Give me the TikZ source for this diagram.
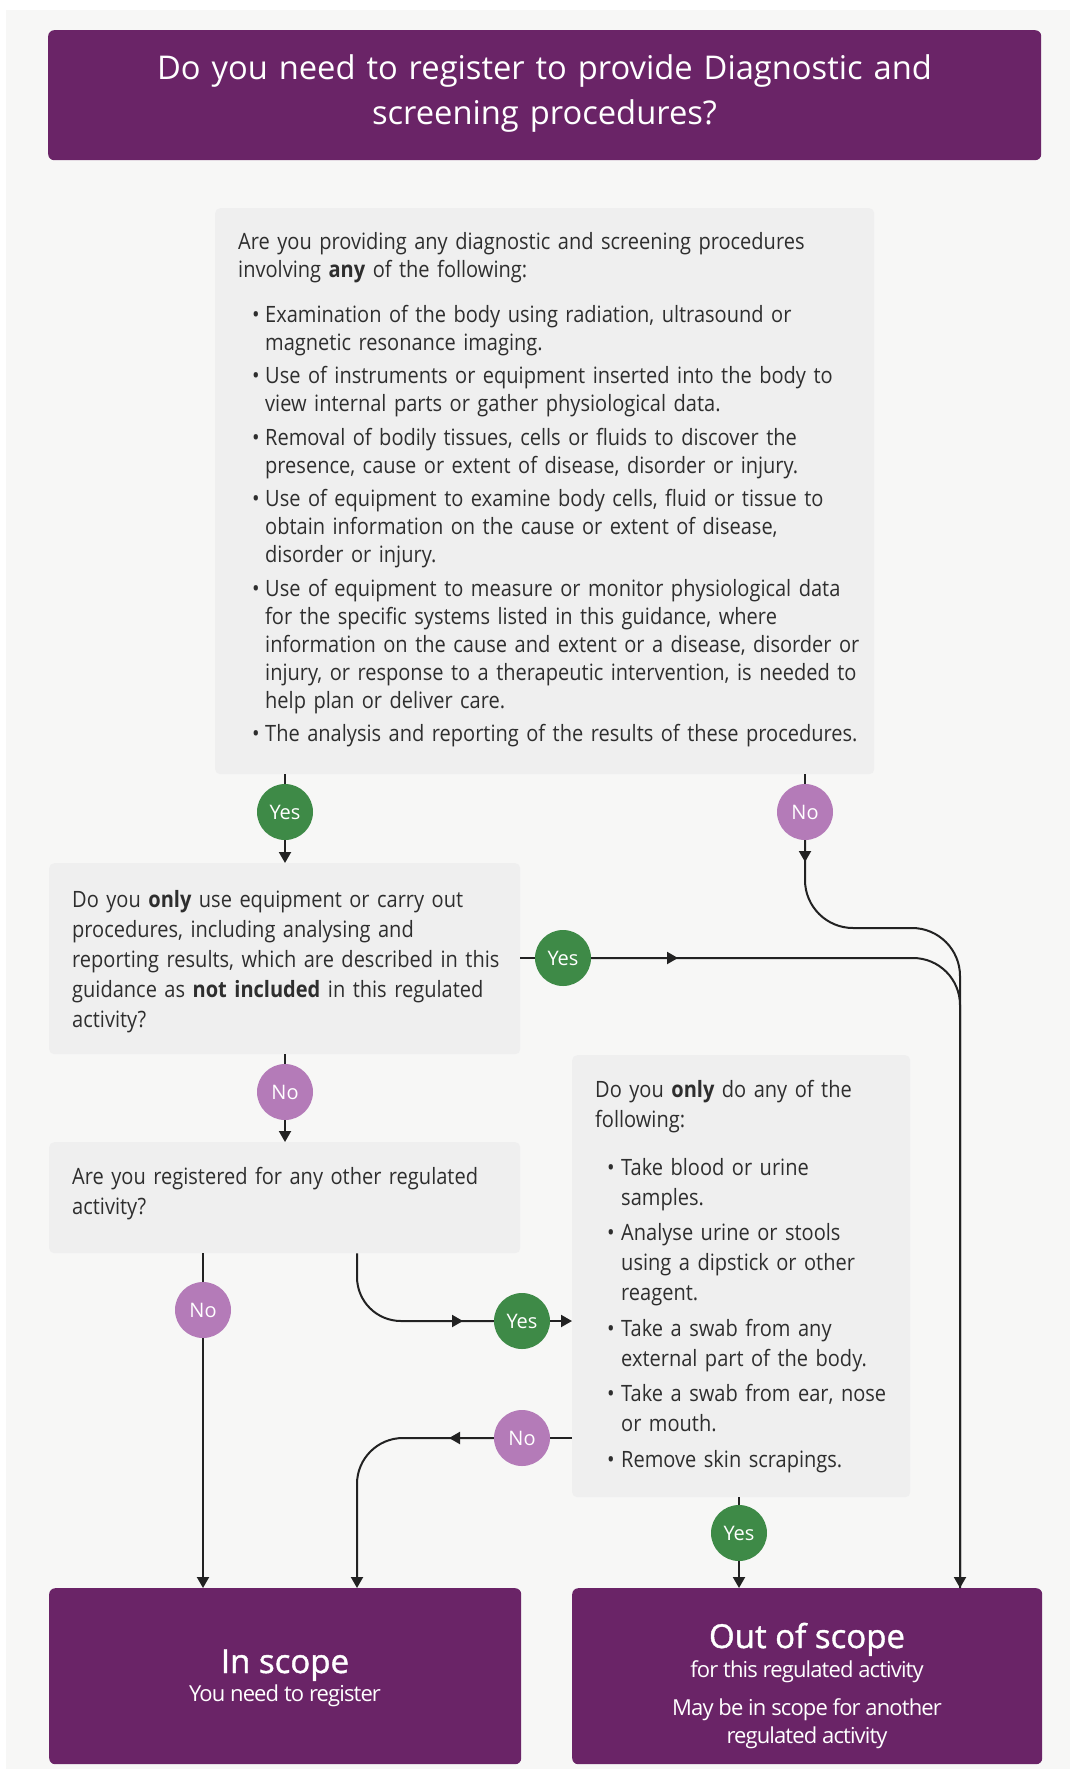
\documentclass[tikz,border=0pt]{standalone}
\usepackage{fontspec}
\setmainfont{Open Sans}
\newfontfamily\bodyfont[FakeStretch=0.89]{Open Sans}
\newfontfamily\whitefont[LetterSpace=-4]{Open Sans}
\newfontfamily\headfont[FakeBold=1.2]{Open Sans}
\usetikzlibrary{arrows.meta}
\definecolor{bgc}{HTML}{F7F7F6}
\definecolor{purp}{HTML}{6A2467}
\definecolor{boxc}{HTML}{EFEFEF}
\definecolor{yesc}{HTML}{3E8A47}
\definecolor{noc}{HTML}{B47BB8}
\definecolor{txtc}{HTML}{2E2E2E}
\definecolor{linec}{HTML}{222222}
\newcommand\bul[2]{\hangindent=#1\hangafter=1\noindent\makebox[#1][l]{•}#2\par}
\begin{document}
\begin{tikzpicture}[x=1bp,y=-1bp,
  graybox/.style={fill=boxc, rounded corners=5bp, draw=none, inner sep=0, anchor=north west},
  purpbox/.style={fill=purp, rounded corners=6bp, draw=none, inner sep=0, anchor=north west},
  bodytxt/.style={anchor=base west, inner sep=0, text=txtc, align=left, text width=#1,
     font={\bodyfont\fontsize{22.5bp}{28bp}\selectfont}},
  bodytxt/.default=660bp,
  whitetxt/.style={anchor=base, inner sep=0, text=white, font={\whitefont\fontsize{22bp}{22bp}\selectfont}},
  headtxt/.style={anchor=base, inner sep=0, text=white, font={\headfont\fontsize{33bp}{33bp}\selectfont}},
  circ/.style={circle, minimum size=56bp, inner sep=0, text=white,
     font={\fontsize{20bp}{20bp}\selectfont}},
  yesnode/.style={circ, fill=yesc},
  nonode/.style={circ, fill=noc},
  conn/.style={draw=linec, line width=2bp},
  arr/.style={-{Triangle[length=11bp,width=12bp]}},
]
\useasboundingbox (0,0) rectangle (1070,1769);
\fill[white] (0,0) rectangle (1070,1769);
\fill[bgc] (6,10) rectangle (1070,1769);

% title
\node[purpbox, minimum width=993bp, minimum height=130bp] (title) at (48,30) {};
\node[anchor=base, inner sep=0, text=white, align=center, text width=980bp,
  font={\fontsize{32.7bp}{45bp}\selectfont}] (titletxt) at (544.5,79)
  {Do you need to register to provide Diagnostic and\\screening procedures?};

% box 1
\node[graybox, minimum width=659bp, minimum height=566bp] (b1) at (215,208) {};
\node[bodytxt] (b1a) at (238,249)
  {Are you providing any diagnostic and screening procedures\\involving \textbf{any} of the following:};
\node[bodytxt] (b1b) at (252,322) {\bul{13bp}{Examination of the body using radiation, ultrasound or\newline magnetic resonance imaging.}\vspace{5.5bp}
  \bul{13bp}{Use of instruments or equipment inserted into the body to\newline view internal parts or gather physiological data.}\vspace{5.5bp}
  \bul{13bp}{Removal of bodily tissues, cells or fluids to discover the\newline presence, cause or extent of disease, disorder or injury.}\vspace{5.5bp}
  \bul{13bp}{Use of equipment to examine body cells, fluid or tissue to\newline obtain information on the cause or extent of disease,\newline disorder or injury.}\vspace{5.5bp}
  \bul{13bp}{Use of equipment to measure or monitor physiological data\newline for the specific systems listed in this guidance, where\newline information on the cause and extent or a disease, disorder or\newline injury, or response to a therapeutic intervention, is needed to\newline help plan or deliver care.}\vspace{5.5bp}
  \bul{13bp}{The analysis and reporting of the results of these procedures.}};

% box 2
\node[graybox, minimum width=471bp, minimum height=191bp] (b2) at (49,863) {};
\node[bodytxt=440bp, font={\bodyfont\fontsize{22.5bp}{30bp}\selectfont}] (b2t) at (72,907)
  {Do you \textbf{only} use equipment or carry out\\procedures, including analysing and\\reporting results, which are described in this\\guidance as \textbf{not included} in this regulated\\activity?};

% box 3
\node[graybox, minimum width=471bp, minimum height=111bp] (b3) at (49,1142) {};
\node[bodytxt=440bp, font={\bodyfont\fontsize{22.5bp}{30bp}\selectfont}] (b3t) at (72,1184)
  {Are you registered for any other regulated\\activity?};

% box 4
\node[graybox, minimum width=338bp, minimum height=442bp] (b4) at (572,1055) {};
\node[bodytxt=320bp, font={\bodyfont\fontsize{22.5bp}{30bp}\selectfont}] (b4a) at (595,1097)
  {Do you \textbf{only} do any of the\\following:};
\node[bodytxt=320bp, font={\bodyfont\fontsize{22.5bp}{30bp}\selectfont}] (b4b) at (607,1175) {\bul{14bp}{Take blood or urine\newline samples.}\vspace{5.5bp}
  \bul{14bp}{Analyse urine or stools\newline using a dipstick or other\newline reagent.}\vspace{5.5bp}
  \bul{14bp}{Take a swab from any\newline external part of the body.}\vspace{5.5bp}
  \bul{14bp}{Take a swab from ear, nose\newline or mouth.}\vspace{5.5bp}
  \bul{14bp}{Remove skin scrapings.}};

% outcome boxes
\node[purpbox, minimum width=472bp, minimum height=176bp] (ins) at (49,1588) {};
\node[headtxt] (inst1) at (285,1673) {In scope};
\node[whitetxt] (inst2) at (285,1701) {You need to register};

\node[purpbox, minimum width=470bp, minimum height=176bp] (outs) at (572,1588) {};
\node[headtxt] (outt1) at (807,1648) {Out of scope};
\node[whitetxt] (outt2) at (807,1677) {for this regulated activity};
\node[whitetxt] (outt3) at (807,1715) {May be in scope for another};
\node[whitetxt] (outt4) at (807,1743) {regulated activity};

% decision circles
\node[yesnode] (y1) at (285,812) {Yes};
\node[nonode] (n1) at (805,812) {No};
\node[yesnode] (y2) at (563,958) {Yes};
\node[nonode] (n2) at (285,1092) {No};
\node[nonode] (n3) at (203,1310) {No};
\node[yesnode] (y3) at (522,1321) {Yes};
\node[nonode] (n4) at (522,1438) {No};
\node[yesnode] (y4) at (739,1533) {Yes};

% helper coordinates
\coordinate (c1) at (960,928);
\coordinate (c2) at (960,958);
\coordinate (c3) at (357,1321);
\coordinate (c4) at (357,1438);
\coordinate (a1) at (805,862);
\coordinate (a2s) at (640,958);
\coordinate (a2) at (678,958);
\coordinate (a3s) at (420,1321);
\coordinate (a3) at (463,1321);
\coordinate (a4s) at (480,1438);
\coordinate (a4) at (449,1438);

% connectors
\draw[conn] (y1) -- (y1 |- b1.south);
\draw[conn,arr] (y1) -- (y1 |- b2.north);

\draw[conn] (n1) -- (n1 |- b1.south);
\draw[conn,arr] (n1) -- (a1);
\draw[conn,arr,rounded corners=48bp] (n1) -- (n1 |- c1) -- (c1) -- (c1 |- outs.north);

\draw[conn] (b2.east |- y2) -- (y2);
\draw[conn,arr] (a2s) -- (a2);
\draw[conn,rounded corners=47bp] (y2) -- (c2) -- (c2 |- outs.north);

\draw[conn] (n2) -- (n2 |- b2.south);
\draw[conn,arr] (n2) -- (n2 |- b3.north);

\draw[conn] (n3) -- (n3 |- b3.south);
\draw[conn,arr] (n3) -- (n3 |- ins.north);

\draw[conn,rounded corners=44bp] (c3 |- b3.south) -- (c3) -- (y3);
\draw[conn,arr] (a3s) -- (a3);
\draw[conn,arr] (y3) -- (y3 -| b4.west);

\draw[conn] (n4 -| b4.west) -- (n4);
\draw[conn,arr] (a4s) -- (a4);
\draw[conn,arr,rounded corners=46bp] (n4) -- (c4) -- (c4 |- ins.north);

\draw[conn] (y4) -- (y4 |- b4.south);
\draw[conn,arr] (y4) -- (y4 |- outs.north);
\end{tikzpicture}
\end{document}
